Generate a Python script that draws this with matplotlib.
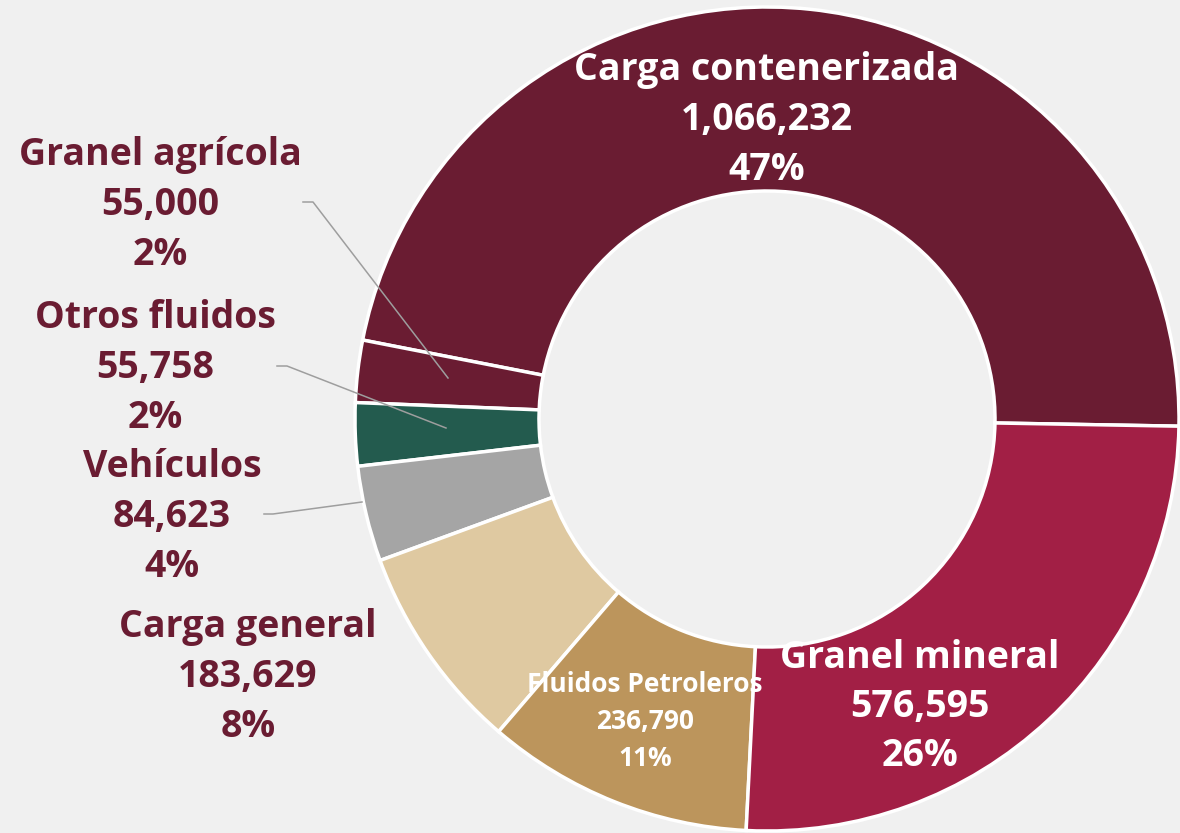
import matplotlib
matplotlib.use("Agg")
import matplotlib.pyplot as plt

W, H = 1180, 833

categories = ["Carga contenerizada", "Granel agrícola", "Otros fluidos", "Vehículos",
              "Carga general", "Fluidos Petroleros", "Granel mineral"]
values = [1066232, 55000, 55758, 84623, 183629, 236790, 576595]
pct_labels = ["47%", "2%", "2%", "4%", "8%", "11%", "26%"]
colors = ["#6A1C32", "#6A1C32", "#235B4E", "#A5A5A5", "#DFC9A1", "#BC955C", "#A21F45"]

MAROON = "#6A1C32"
BG = "#F0F0F0"

plt.rcParams['font.family'] = ['Open Sans', 'DejaVu Sans']

fig = plt.figure(figsize=(W / 100, H / 100), dpi=100, facecolor=BG)
ax = fig.add_axes([0, 0, 1, 1])
ax.set_facecolor(BG)

cx, cy, r = 767, H - 419, 412
ax.pie(values, colors=colors, startangle=-1, counterclock=True,
       radius=r, center=(cx, cy),
       wedgeprops=dict(width=184, edgecolor="white", linewidth=2.5))
ax.set_xlim(0, W)
ax.set_ylim(0, H)
ax.set_aspect("equal")
ax.axis("off")


def label(i, x, y, color, size, step):
    # name / value / percent on three lines, y in pixels from the top
    lines = [categories[i], f"{values[i]:,}", pct_labels[i]]
    for k, t in enumerate(lines):
        ax.text(x, H - (y + k * step), t, ha="center", va="center",
                color=color, fontsize=size, fontweight="bold", zorder=5)


label(0, 767, 70, "white", 27, 50)
label(6, 920, 658, "white", 27, 49)
label(5, 645, 685, "white", 19, 37)
label(1, 160, 155, MAROON, 27, 50)
label(2, 155, 318, MAROON, 27, 50)
label(3, 172, 467, MAROON, 27, 50)
label(4, 248, 627, MAROON, 27, 50)

# leader lines
leaders = [
    [(303, 202), (313, 202), (448, 378)],
    [(277, 366), (287, 366), (446, 428)],
    [(264, 514), (273, 514), (362, 502)],
]
for pts in leaders:
    xs = [p[0] for p in pts]
    ys = [H - p[1] for p in pts]
    ax.plot(xs, ys, color="#9E9E9E", linewidth=1.1, zorder=4)

fig.savefig("out.png", dpi=100, facecolor=BG)
